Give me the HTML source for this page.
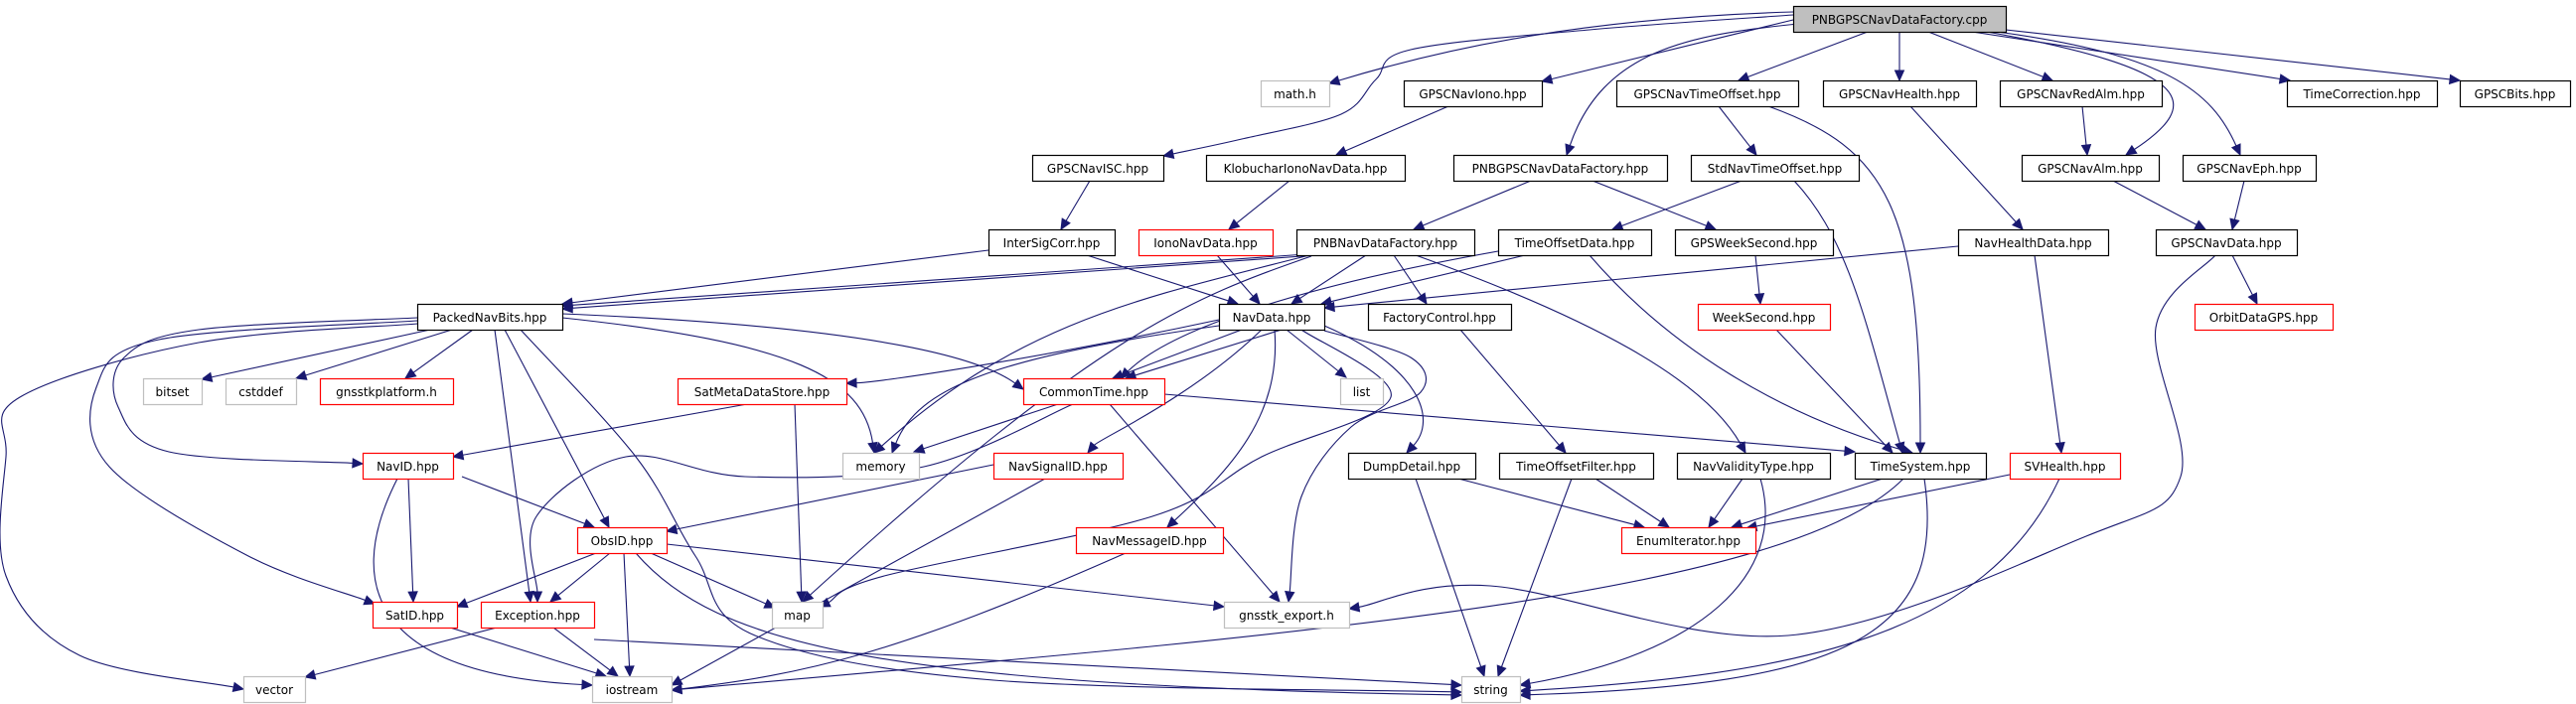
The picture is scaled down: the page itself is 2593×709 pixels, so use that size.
<!DOCTYPE html>
<html><head><meta charset="utf-8"><style>
html,body{margin:0;padding:0;background:#fff}
svg{display:block}
text{font-family:"DejaVu Sans","Liberation Sans",sans-serif;font-size:12px;fill:#000}
</style></head><body>
<svg id="g" width="2593" height="709" viewBox="0 0 2593 709" xmlns="http://www.w3.org/2000/svg"></svg>
<script>
var NS="http://www.w3.org/2000/svg",svg=document.getElementById('g');
function el(t,a,txt){var e=document.createElementNS(NS,t);for(var k in a)e.setAttribute(k,a[k]);if(txt)e.textContent=txt;svg.appendChild(e);return e;}
function Y(r){return 6+r*75;}
var N={
cpp:["PNBGPSCNavDataFactory.cpp",1805,2019,0,"g"],
math:["math.h",1269,1338,1,"s"],iono:["GPSCNavIono.hpp",1413,1552,1,"b"],cto:["GPSCNavTimeOffset.hpp",1627,1810,1,"b"],
chl:["GPSCNavHealth.hpp",1835,1989,1,"b"],cra:["GPSCNavRedAlm.hpp",2013,2176,1,"b"],tc:["TimeCorrection.hpp",2302,2453,1,"b"],bits:["GPSCBits.hpp",2476,2587,1,"b"],
isc:["GPSCNavISC.hpp",1039,1171,2,"b"],klo:["KlobucharIonoNavData.hpp",1214,1414,2,"b"],pgf:["PNBGPSCNavDataFactory.hpp",1463,1678,2,"b"],
sto:["StdNavTimeOffset.hpp",1702,1871,2,"b"],alm:["GPSCNavAlm.hpp",2035,2173,2,"b"],eph:["GPSCNavEph.hpp",2197,2331,2,"b"],
isg:["InterSigCorr.hpp",995,1122,3,"b"],ind:["IonoNavData.hpp",1146,1281,3,"r"],pnf:["PNBNavDataFactory.hpp",1305,1484,3,"b"],
tod:["TimeOffsetData.hpp",1508,1662,3,"b"],gws:["GPSWeekSecond.hpp",1686,1845,3,"b"],nhd:["NavHealthData.hpp",1971,2122,3,"b"],cnd:["GPSCNavData.hpp",2170,2312,3,"b"],
pnb:["PackedNavBits.hpp",420,566,4,"b"],nd:["NavData.hpp",1227,1333,4,"b"],fc:["FactoryControl.hpp",1377,1521,4,"b"],ws:["WeekSecond.hpp",1709,1842,4,"r"],odg:["OrbitDataGPS.hpp",2209,2348,4,"r"],
bitset:["bitset",144,203,5,"s"],cstd:["cstddef",227,298,5,"s"],gpl:["gnsstkplatform.h",322,456,5,"r"],smd:["SatMetaDataStore.hpp",682,852,5,"r"],ct:["CommonTime.hpp",1030,1172,5,"r"],list:["list",1349,1392,5,"s"],
nid:["NavID.hpp",365,456,6,"r"],mem:["memory",848,925,6,"s"],nsi:["NavSignalID.hpp",1000,1130,6,"r"],dd:["DumpDetail.hpp",1357,1485,6,"b"],tof:["TimeOffsetFilter.hpp",1509,1664,6,"b"],
nvt:["NavValidityType.hpp",1688,1842,6,"b"],ts:["TimeSystem.hpp",1867,1999,6,"b"],svh:["SVHealth.hpp",2023,2134,6,"r"],
obs:["ObsID.hpp",581,671,7,"r"],nmi:["NavMessageID.hpp",1083,1231,7,"r"],ei:["EnumIterator.hpp",1632,1767,7,"r"],
sat:["SatID.hpp",375,460,8,"r"],exc:["Exception.hpp",484,598,8,"r"],map:["map",777,828,8,"s"],gex:["gnsstk_export.h",1232,1358,8,"s"],
vec:["vector",245,307,9,"s"],ios:["iostream",596,676,9,"s"],str:["string",1471,1530,9,"s"]};
var E=[
[[1805,12],[1600,18],[1450,50],[1338,84]],
[[1805,15],[1600,30],[1420,50],[1385,80],[1350,115],[1250,140],[1171,157]],
[[1805,20],[1552,82]],
[[1810,24],[1700,35],[1610,60],[1577,156]],
[[1880,32],[1750,81]],[[1912,32],[1912,81]],[[1941,32],[2066,81]],
[[2000,32],[2210,70],[2210,110],[2140,156]],
[[2010,32],[2180,55],[2230,100],[2255,156]],
[[1985,32],[2305,81]],[[2019,30],[2476,81]],
[[1458,107],[1345,156]],[[1730,107],[1768,156]],
[[1780,107],[1900,150],[1933,220],[1933,456]],
[[1923,107],[2036,231]],[[2096,107],[2101,156]],
[[2127,182],[2220,231]],[[2259,182],[2247,231]],[[2247,257],[2272,306]],
[[2230,257],[2170,330],[2195,480],[2100,540],[1800,640],[1500,590],[1358,613]],
[[1097,182],[1068,231]],[[1298,182],[1237,231]],[[1225,257],[1268,306]],
[[1541,182],[1423,231]],[[1603,182],[1727,231]],[[1753,182],[1623,231]],
[[1806,182],[1860,240],[1880,330],[1915,456]],
[[1535,257],[1330,306]],[[1971,248],[1333,310]],
[[1508,253],[1300,290],[1170,340],[1128,381]],
[[1600,257],[1680,350],[1800,420],[1925,456]],
[[1767,257],[1772,306]],[[1788,332],[1905,456]],
[[2048,257],[2075,456]],
[[1375,257],[1300,306]],[[1403,257],[1436,306]],
[[1315,256],[566,308]],[[1325,257],[566,311]],[[995,252],[566,306]],
[[1318,257],[1150,300],[1020,330],[880,456]],
[[1320,258],[1200,300],[1100,340],[808,606]],
[[1425,257],[1600,320],[1720,390],[1757,456]],
[[1094,257],[1246,306]],
[[433,332],[203,382]],[[455,332],[298,381]],[[476,332],[408,381]],
[[420,320],[200,332],[125,360],[119,410],[170,455],[365,467]],
[[420,323],[160,342],[97,390],[110,470],[250,560],[377,608]],
[[420,326],[200,345],[20,400],[6,460],[6,580],[80,660],[245,694]],
[[498,332],[534,606]],[[508,332],[613,531]],
[[524,332],[640,460],[700,560],[760,640],[1000,685],[1471,697]],
[[566,316],[900,330],[1000,370],[1030,392]],
[[566,320],[800,345],[870,390],[880,456]],
[[1227,328],[1000,360],[920,400],[898,456]],
[[1250,332],[1120,381]],[[1290,332],[1133,381]],[[1295,332],[1355,380]],
[[1227,322],[1050,360],[880,385],[852,386]],
[[1270,332],[1200,400],[1100,450],[1095,456]],
[[1283,332],[1290,420],[1230,480],[1175,531]],
[[1333,333],[1420,360],[1430,395],[1360,430],[1310,500],[1297,606]],
[[1310,332],[1400,400],[1270,460],[1160,520],[890,580],[825,611]],
[[1333,328],[1430,370],[1440,430],[1416,456]],
[[1470,332],[1576,456]],
[[752,407],[456,460]],[[800,407],[807,606]],
[[1065,407],[920,455]],
[[1080,407],[930,470],[750,480],[630,460],[540,520],[541,606]],
[[1117,407],[1288,606]],[[1172,397],[1867,455]],
[[465,480],[598,531]],[[411,482],[416,606]],[[400,482],[340,600],[400,680],[596,690]],
[[1000,468],[671,535]],[[1052,482],[676,690]],
[[1133,557],[900,660],[800,680],[676,695]],
[[600,557],[460,611]],[[614,557],[554,606]],[[628,557],[634,681]],[[655,557],[780,612]],
[[671,548],[1232,611]],[[640,557],[720,650],[900,690],[1471,700]],
[[453,632],[610,681]],[[500,632],[307,682]],[[557,632],[622,681]],[[598,644],[1471,690]],
[[1468,482],[1655,531]],[[1425,482],[1494,681]],[[1606,482],[1680,531]],[[1582,482],[1508,681]],
[[1754,482],[1720,531]],[[1772,482],[1800,580],[1700,660],[1530,690]],
[[1895,482],[1743,531]],[[1916,482],[1800,600],[1300,640],[676,695]],
[[1937,482],[1960,640],[1850,690],[1530,700]],
[[2023,478],[1758,532]],[[2073,482],[2000,640],[1800,680],[1530,696]]
];
var C="#191970";
function pathD(p){var d="M"+p[0][0]+","+p[0][1];
 if(p.length==2)return d+"L"+p[1][0]+","+p[1][1];
 if(p.length==4)return d+"C"+p[1]+" "+p[2]+" "+p[3];
 for(var i=0;i<p.length-1;i++){var p0=p[i-1]||p[i],p1=p[i],p2=p[i+1],p3=p[i+2]||p2;
  var c1=[p1[0]+(p2[0]-p0[0])/6,p1[1]+(p2[1]-p0[1])/6],c2=[p2[0]-(p3[0]-p1[0])/6,p2[1]-(p3[1]-p1[1])/6];
  d+="C"+c1+" "+c2+" "+p2;}return d;}
E.forEach(function(p){
 var q=p.map(function(a){return a.slice();});
 var e=q[q.length-1],b=q[q.length-2];var dx=e[0]-b[0],dy=e[1]-b[1],L=Math.hypot(dx,dy)||1;dx/=L;dy/=L;
 var bx=e[0]-dx*10,by=e[1]-dy*10;q[q.length-1]=[bx,by];
 if(q.length==4){var c=q[2];q[2]=[c[0]+(bx-e[0]),c[1]+(by-e[1])];}
 el("path",{d:pathD(q),fill:"none",stroke:C,"stroke-width":1.1});
 el("polygon",{points:e[0]+","+e[1]+" "+(bx-dy*4.5)+","+(by+dx*4.5)+" "+(bx+dy*4.5)+","+(by-dx*4.5),fill:C,stroke:C});
});
for(var k in N){var n=N[k],y=Y(n[3]);
 var st=n[4]=="g"?{f:"#bfbfbf",s:"#000"}:n[4]=="s"?{f:"#fff",s:"#bfbfbf"}:n[4]=="r"?{f:"#fff",s:"#ff0000"}:{f:"#fff",s:"#000"};
 el("rect",{x:n[1]+0.5,y:y+0.5,width:n[2]-n[1],height:26,fill:st.f,stroke:st.s,"stroke-width":1.2});
 el("text",{x:(n[1]+n[2])/2,y:y+18,"text-anchor":"middle"},n[0]);}
</script>
</body></html>
